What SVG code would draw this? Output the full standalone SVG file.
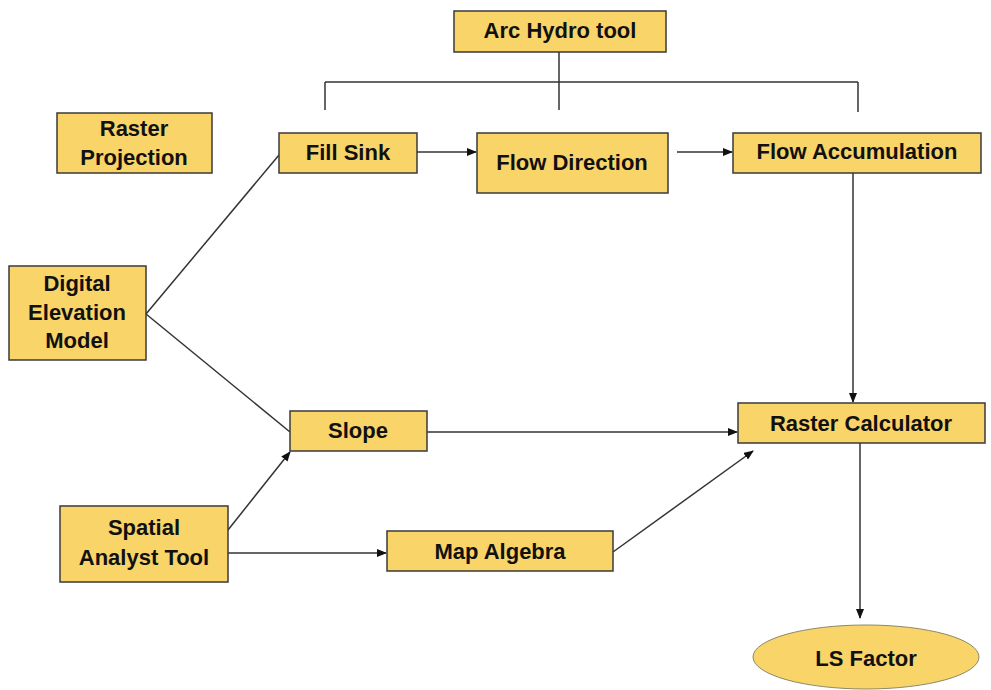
<svg xmlns="http://www.w3.org/2000/svg" width="991" height="690" viewBox="0 0 991 690">
<defs>
<style>
.box{fill:#F9D468;stroke:#3a3a3a;stroke-width:1.5}
.t{font-family:"Liberation Sans",Arial,sans-serif;font-weight:bold;font-size:22px;fill:#111;text-anchor:middle}
.ln{stroke:#333;stroke-width:1.5;fill:none}
</style>
<marker id="ah" markerWidth="10" markerHeight="8" refX="9" refY="4" orient="auto" markerUnits="userSpaceOnUse">
<path d="M0,0 L10,4 L0,8 Z" fill="#111"/>
</marker>
</defs>
<rect width="991" height="690" fill="#fff"/>
<g id="connectors">
<line class="ln" x1="559" y1="52" x2="559" y2="110"/>
<line class="ln" x1="325" y1="82" x2="858" y2="82"/>
<line class="ln" x1="325" y1="82" x2="325" y2="110"/>
<line class="ln" x1="858" y1="82" x2="858" y2="112"/>
<line class="ln" x1="417" y1="152" x2="476" y2="152" marker-end="url(#ah)"/>
<line class="ln" x1="677" y1="152" x2="732" y2="152" marker-end="url(#ah)"/>
<line class="ln" x1="853" y1="173" x2="853" y2="402" marker-end="url(#ah)"/>
<line class="ln" x1="146" y1="314" x2="279" y2="155"/>
<line class="ln" x1="146" y1="314" x2="290" y2="432"/>
<line class="ln" x1="427" y1="432" x2="737" y2="432" marker-end="url(#ah)"/>
<line class="ln" x1="228" y1="530" x2="290" y2="452" marker-end="url(#ah)"/>
<line class="ln" x1="228" y1="553" x2="386" y2="553" marker-end="url(#ah)"/>
<line class="ln" x1="613" y1="552" x2="753" y2="451" marker-end="url(#ah)"/>
<line class="ln" x1="860" y1="443" x2="860" y2="618" marker-end="url(#ah)"/>
</g>
<g id="arc-hydro"><rect class="box" x="454" y="11" width="212" height="41"/><text class="t" x="560" y="38">Arc Hydro tool</text></g>
<g id="raster-projection"><rect class="box" x="57" y="113" width="155" height="60"/><text class="t" x="134" y="136">Raster</text><text class="t" x="134" y="165">Projection</text></g>
<g id="fill-sink"><rect class="box" x="279" y="133" width="138" height="40"/><text class="t" x="348" y="160">Fill Sink</text></g>
<g id="flow-direction"><rect class="box" x="477" y="133" width="191" height="60"/><text class="t" x="572" y="170">Flow Direction</text></g>
<g id="flow-accumulation"><rect class="box" x="733" y="133" width="248" height="40"/><text class="t" x="857" y="159">Flow Accumulation</text></g>
<g id="dem"><rect class="box" x="9" y="266" width="137" height="94"/><text class="t" x="77" y="291">Digital</text><text class="t" x="77" y="320">Elevation</text><text class="t" x="77" y="348">Model</text></g>
<g id="slope"><rect class="box" x="290" y="411" width="137" height="40"/><text class="t" x="358" y="438">Slope</text></g>
<g id="raster-calculator"><rect class="box" x="738" y="403" width="247" height="40"/><text class="t" x="861" y="431">Raster Calculator</text></g>
<g id="spatial-analyst"><rect class="box" x="60" y="506" width="168" height="76"/><text class="t" x="144" y="535">Spatial</text><text class="t" x="144" y="565">Analyst Tool</text></g>
<g id="map-algebra"><rect class="box" x="387" y="531" width="226" height="40"/><text class="t" x="500" y="559">Map Algebra</text></g>
<g id="ls-factor"><ellipse class="box" cx="866" cy="657" rx="113" ry="32" style="stroke:#8a8a6a;stroke-width:1"/><text class="t" x="866" y="666">LS Factor</text></g>
</svg>
